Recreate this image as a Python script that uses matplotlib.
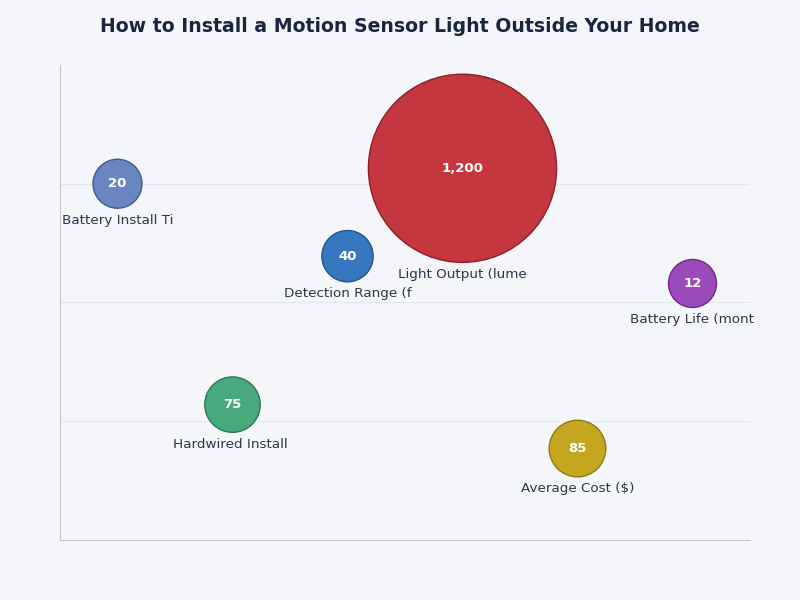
import matplotlib

matplotlib.use("Agg")
import matplotlib.pyplot as plt
import numpy as np

# --- data ---------------------------------------------------------------
labels = [
    "Battery Install Time (min)",
    "Hardwired Install Time (min)",
    "Detection Range (ft)",
    "Light Output (lumens)",
    "Average Cost ($)",
    "Battery Life (months)",
]
values = [20, 75, 40, 1200, 85, 12]
y_pos = [3.0, 1.14, 2.39, 3.13, 0.77, 2.16]
colors = ["#6a86c2", "#48a97d", "#3578c0", "#c4373f", "#c5a620", "#9b4ab9"]
edges = ["#3e5a92", "#2a7a55", "#1f5590", "#8e1f27", "#8f7a10", "#6e2a8a"]
value_text = ["20", "75", "40", "1,200", "85", "12"]

BG = "#f5f6fa"
fig, ax = plt.subplots(figsize=(8, 6), dpi=100)
fig.patch.set_facecolor(BG)
ax.set_facecolor(BG)
fig.subplots_adjust(left=0.075, right=0.9375, bottom=0.1, top=0.8917)

x = np.arange(len(values))
vals = np.array(values, dtype=float)
r_px = 23.3 + 0.059 * vals  # bubble radius in pixels
r_pt = r_px * 72 / fig.dpi
sizes = (2 * r_pt) ** 2

ax.scatter(x, y_pos, s=sizes, c=colors, edgecolors=edges, linewidths=1.0, zorder=3)

for xi, yi, vt, lab, rp in zip(x, y_pos, value_text, labels, r_pt):
    ax.text(xi, yi, vt, ha="center", va="center", color="white",
            fontsize=9.5, fontweight="bold", zorder=4)
    ax.annotate(lab[:18], (xi, yi), xytext=(0, -rp - 4), textcoords="offset points",
                ha="center", va="top", fontsize=9.7, color="#2d3648", zorder=4)

ax.set_xlim(-0.5, len(values) - 0.5)
ax.set_ylim(0, 4)
ax.set_yticks([1, 2, 3])
ax.set_xticks([])
ax.tick_params(left=False, labelleft=False)
ax.grid(axis="y", color="#e3e6ec", lw=0.8)
ax.set_axisbelow(True)
for s in ["top", "right"]:
    ax.spines[s].set_visible(False)
for s in ["left", "bottom"]:
    ax.spines[s].set_color("#c4c7cd")

fig.suptitle("How to Install a Motion Sensor Light Outside Your Home",
             fontsize=13.6, fontweight="bold", color="#1a2540", y=0.955, va="center")

fig.savefig("out.png", dpi=100, facecolor=BG)
